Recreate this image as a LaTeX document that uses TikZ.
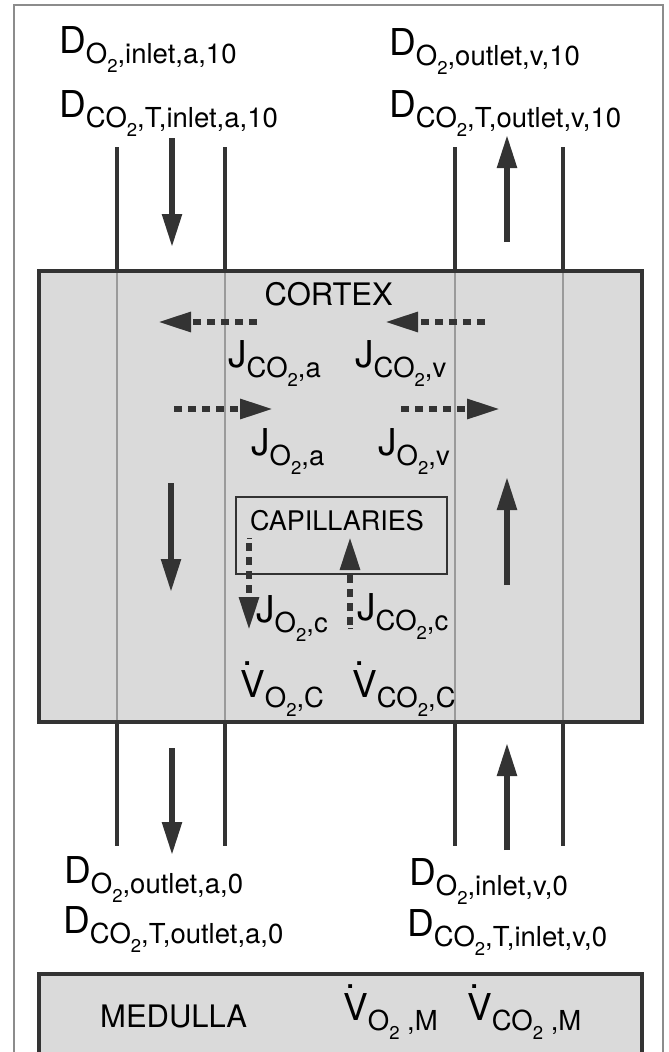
\documentclass[tikz,border=0pt]{standalone}
\usepackage{fontspec}
\setmainfont{TeX Gyre Heros}
\usetikzlibrary{arrows.meta}

\definecolor{ink}{HTML}{333333}
\definecolor{boxfill}{HTML}{DADADA}
\definecolor{thinline}{HTML}{9A9A9A}
\definecolor{framegray}{HTML}{8C8C8C}

% subscripts: first level and the small "2"
\newcommand\sub[1]{\raisebox{-10pt}{\fontsize{27.5}{27.5}\selectfont #1}}
\newcommand\two{\raisebox{-9pt}{\fontsize{18.5}{18.5}\selectfont 2}}
% V with the rate dot above its left part
\newcommand\Vdot{\rlap{\hspace{0.06em}\raisebox{0.85em}{.}}V}

\tikzset{
  lbl/.style={inner sep=0pt, anchor=base west, font=\fontsize{37}{37}\selectfont, text=black},
  title/.style={inner sep=0pt, anchor=base west, font=\fontsize{31}{31}\selectfont, text=black},
  vessel/.style={draw=ink, line width=3.2pt},
  vesselin/.style={draw=thinline, line width=1.4pt},
  region/.style={draw=ink, fill=boxfill, line width=4pt},
  flow/.style={draw=ink, line width=5.5pt, -{Triangle[length=33pt,width=19pt]}},
  flux/.style={draw=ink, line width=6pt, dash pattern=on 8pt off 6pt, -{Triangle[length=33pt,width=19pt]}},
  tick/.style={draw=ink, line width=0.8pt},
}

\begin{document}
\begin{tikzpicture}[x=1pt,y=-1pt]
\clip (0,0) rectangle (669,1052);

% outer frame
\draw[framegray, line width=1.5pt] (14,5) rectangle (663,1080);

% vessels above and below the cortex
\foreach \x/\n in {117/a, 225/b, 455/c, 563/d}{
  \coordinate (top\n) at (\x,147);
  \coordinate (ct\n) at (\x,271);
  \coordinate (cb\n) at (\x,722);
  \coordinate (bot\n) at (\x,846);
  \draw[vessel] (top\n) -- (ct\n);
  \draw[vessel] (cb\n) -- (bot\n);
}

% cortex
\fill[boxfill] (39,271) rectangle (642,722);
\foreach \n in {a,b,c,d}{ \draw[vesselin] (ct\n) -- (cb\n); }
\draw[region, fill=none] (39,271) rectangle (642,722);

% capillaries
\node[draw=ink, line width=2.5pt, minimum width=211pt, minimum height=77pt, inner sep=0pt] (cap) at (341.5,535.5) {};

% medulla
\draw[region] (39,974) rectangle (642,1080);

% blood flow arrows
\coordinate (f1s) at (172,138); \coordinate (f1e) at (172,247);
\coordinate (f2s) at (507,242); \coordinate (f2e) at (507,135);
\coordinate (f3s) at (171,483); \coordinate (f3e) at (171,592);
\coordinate (f4s) at (507,585); \coordinate (f4e) at (507,477);
\coordinate (f5s) at (172,748); \coordinate (f5e) at (172,855);
\coordinate (f6s) at (507,850); \coordinate (f6e) at (507,743);
\foreach \i in {1,...,6}{ \draw[flow] (f\i s) -- (f\i e); }

% diffusive fluxes
\coordinate (j1s) at (257,322); \coordinate (j1e) at (158,322);
\coordinate (j2s) at (485,322); \coordinate (j2e) at (385,322);
\coordinate (j3s) at (174,409); \coordinate (j3e) at (273,409);
\coordinate (j4s) at (401,409); \coordinate (j4e) at (500,409);
\coordinate (j5s) at (249,543); \coordinate (j5e) at (249,630);
\coordinate (j6s) at (350,625); \coordinate (j6e) at (350,537);
\foreach \i in {1,...,6}{ \draw[flux] (j\i s) -- (j\i e); }
\draw[tick] (247,538) -- (252,538);
\draw[tick] (348,628) -- (353,628);

% labels at the top
\node[lbl] (dtl1) at (59,53) {D\sub{O\two,inlet,a,10}};
\node[lbl] (dtl2) at (59,117) {D\sub{CO\two,T,inlet,a,10}};
\node[lbl] (dtr1) at (389,55) {D\sub{O\two,outlet,v,10}};
\node[lbl] (dtr2) at (389,117) {D\sub{CO\two,T,outlet,v,10}};

% cortex labels
\node[title] (cortex) at (264.5,305) {CORTEX};
\node[lbl] (jco2a) at (228,367) {J\sub{CO\two,a}};
\node[lbl] (jco2v) at (355,367) {J\sub{CO\two,v}};
\node[lbl] (jo2a) at (251,455) {J\sub{O\two,a}};
\node[lbl] (jo2v) at (378,455) {J\sub{O\two,v}};
\node[title, font=\fontsize{27}{27}\selectfont] (captext) at (250,530) {CAPILLARIES};
\node[lbl] (jo2c) at (256,622) {J\sub{O\two,c}};
\node[lbl] (jco2c) at (357,620) {J\sub{CO\two,c}};
\node[lbl] (vo2c) at (240,697) {\Vdot\sub{O\two,C}};
\node[lbl] (vco2c) at (352,697) {\Vdot\sub{CO\two,C}};

% labels at the bottom
\node[lbl] (dbl1) at (64,883) {D\sub{O\two,outlet,a,0}};
\node[lbl] (dbl2) at (63,933) {D\sub{CO\two,T,outlet,a,0}};
\node[lbl] (dbr1) at (409,885) {D\sub{O\two,inlet,v,0}};
\node[lbl] (dbr2) at (407,936) {D\sub{CO\two,T,inlet,v,0}};

% medulla labels
\node[title] (medulla) at (100,1027) {MEDULLA};
\node[lbl] (vo2m) at (343,1020) {\Vdot\sub{O\two{} ,M}};
\node[lbl] (vco2m) at (467,1020) {\Vdot\sub{CO\two{} ,M}};
\end{tikzpicture}
\end{document}
